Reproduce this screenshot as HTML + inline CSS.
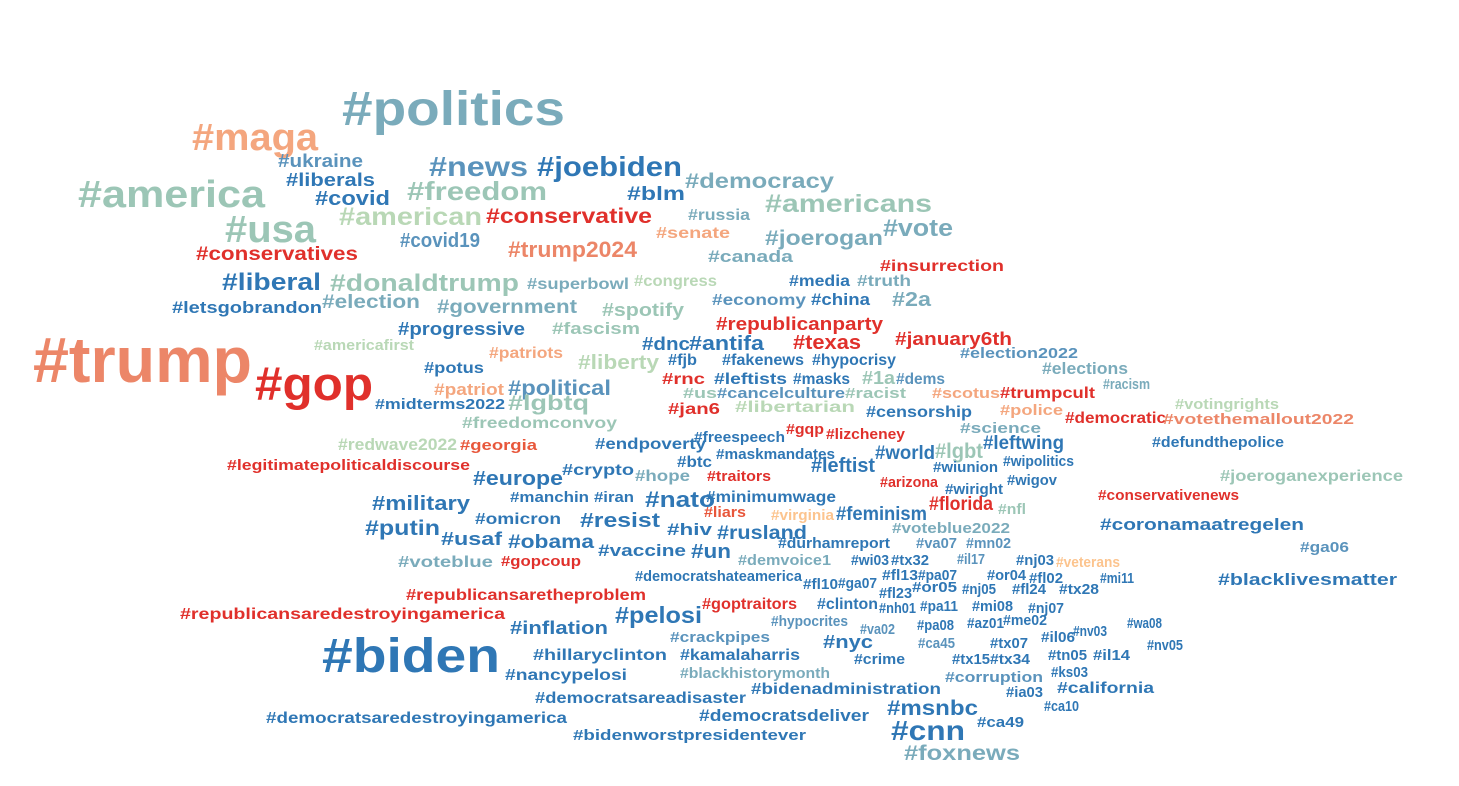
<!DOCTYPE html>
<html><head><meta charset="utf-8"><title>Hashtag word cloud</title>
<style>
html,body{margin:0;padding:0;background:#fff;}
svg{display:block;}
text{font-family:"Liberation Sans",Arial,sans-serif;font-weight:bold;}
</style></head>
<body>
<svg id="cloud" width="1459" height="786" viewBox="0 0 1459 786" xmlns="http://www.w3.org/2000/svg">
<rect width="1459" height="786" fill="#fff"/>
</svg>
<script>
// [word, left, right, baseline, fontSize, colorKey]
const words = [
["#politics",342,565,125,48,"S"],["#maga",192,318,150,38,"L"],["#ukraine",278,363,167,18,"M"],
["#liberals",286,375,186,18,"B"],["#america",78,265,207,38,"T"],["#news",429,528,176,28,"M"],
["#joebiden",537,682,176,28,"B"],["#covid",315,390,205,20,"B"],["#freedom",407,547,200,26,"T"],
["#democracy",685,834,188,21,"S"],["#blm",627,685,200,19,"B"],["#americans",765,932,212,25,"T"],
["#american",339,482,225,25,"G"],["#conservative",486,652,223,21,"R"],["#usa",225,316,242,38,"T"],
["#russia",688,750,220,16,"S"],["#senate",656,730,238,16,"L"],["#covid19",400,480,247,20,"M"],
["#trump2024",508,637,257,22,"O"],["#joerogan",765,883,245,21,"S"],["#vote",883,953,236,24,"S"],
["#conservatives",196,358,260,19,"R"],["#canada",708,793,262,17,"S"],["#insurrection",880,1004,271,16,"R"],
["#media",789,850,286,16,"B"],["#truth",857,911,286,16,"S"],["#liberal",222,321,290,24,"B"],
["#donaldtrump",330,519,291,24,"T"],["#superbowl",527,629,289,16,"S"],["#congress",634,717,286,16,"G"],
["#economy",712,806,305,16,"M"],["#china",811,870,305,17,"B"],["#2a",892,931,306,20,"S"],
["#letsgobrandon",172,322,313,17,"B"],["#election",322,420,308,19,"S"],["#government",437,577,313,19,"S"],
["#spotify",602,684,316,18,"T"],["#progressive",398,525,335,18,"B"],["#fascism",552,640,334,17,"T"],
["#republicanparty",716,883,330,18,"R"],["#dnc",642,690,350,18,"B"],["#antifa",689,764,350,20,"B"],
["#texas",793,861,349,20,"R"],["#january6th",895,1012,345,18,"R"],["#americafirst",314,414,350,15,"G"],
["#patriots",489,563,358,16,"L"],["#liberty",578,659,369,20,"G"],["#fjb",668,697,365,16,"B"],
["#fakenews",722,804,365,16,"B"],["#hypocrisy",812,896,365,16,"B"],["#election2022",960,1078,358,15,"M"],
["#elections",1042,1128,374,17,"S"],["#potus",424,484,373,16,"B"],["#trump",33,252,382,64,"O"],
["#gop",255,373,400,47,"R"],["#rnc",662,705,384,16,"R"],["#leftists",714,787,384,16,"B"],
["#masks",793,850,384,16,"B"],["#1a",862,895,384,18,"T"],["#dems",896,945,384,16,"M"],
["#racism",1103,1150,389,15,"S"],["#patriot",434,504,395,17,"L"],["#political",508,611,395,21,"M"],
["#us",683,717,398,15,"T"],["#cancelculture",717,845,398,15,"M"],["#racist",845,906,398,15,"T"],
["#scotus",932,1000,398,15,"L"],["#trumpcult",1000,1095,398,16,"R"],["#midterms2022",375,505,409,15,"B"],
["#lgbtq",508,589,410,21,"T"],["#jan6",668,720,414,16,"R"],["#libertarian",735,855,412,16,"G"],
["#votingrights",1175,1279,409,15,"G"],["#censorship",866,972,417,16,"B"],["#police",1000,1063,415,15,"L"],
["#democratic",1065,1166,423,16,"R"],["#votethemallout2022",1163,1354,424,15,"O"],["#freedomconvoy",462,617,428,16,"T"],
["#gqp",786,824,434,15,"R"],["#lizcheney",826,905,439,15,"R"],["#science",960,1041,433,15,"S"],
["#freespeech",694,785,442,15,"B"],["#redwave2022",338,457,450,17,"G"],["#georgia",460,537,450,15,"X"],
["#endpoverty",595,706,449,16,"B"],["#maskmandates",716,835,459,15,"B"],["#world",875,935,459,19,"B"],
["#lgbt",935,983,458,21,"T"],["#leftwing",983,1064,449,19,"B"],["#defundthepolice",1152,1284,447,15,"B"],
["#legitimatepoliticaldiscourse",227,470,470,15,"R"],["#btc",677,712,467,16,"B"],["#crypto",562,634,475,16,"B"],
["#hope",635,690,481,16,"S"],["#traitors",707,771,481,15,"R"],["#leftist",811,875,472,20,"B"],
["#wiunion",933,998,472,15,"B"],["#wipolitics",1003,1074,466,15,"B"],["#joeroganexperience",1220,1403,481,16,"T"],
["#europe",473,563,485,20,"B"],["#arizona",880,938,487,15,"R"],["#wigov",1007,1057,485,15,"B"],
["#wiright",945,1003,494,15,"B"],["#iran",594,634,502,15,"B"],["#manchin",510,589,502,15,"B"],
["#military",372,470,510,20,"B"],["#nato",645,715,507,22,"B"],["#minimumwage",706,836,502,16,"B"],
["#florida",929,993,510,19,"R"],["#conservativenews",1098,1239,500,15,"R"],["#feminism",836,927,520,19,"B"],
["#nfl",998,1026,514,15,"T"],["#liars",704,746,517,15,"X"],["#virginia",771,834,520,15,"P"],
["#omicron",475,561,524,16,"B"],["#resist",580,660,527,20,"B"],["#putin",365,440,535,21,"B"],
["#hiv",667,712,535,17,"B"],["#rusland",717,807,539,19,"B"],["#voteblue2022",892,1010,533,15,"S"],
["#coronamaatregelen",1100,1304,530,17,"B"],["#usaf",441,502,545,18,"B"],["#obama",508,594,548,19,"B"],
["#durhamreport",778,890,548,15,"B"],["#va07",916,957,548,15,"M"],["#mn02",966,1011,548,15,"M"],
["#ga06",1300,1349,552,15,"M"],["#vaccine",598,686,556,17,"B"],["#un",691,731,558,20,"B"],
["#voteblue",398,493,567,16,"S"],["#gopcoup",501,581,566,15,"R"],["#demvoice1",738,831,565,15,"S"],
["#wi03",851,889,565,15,"B"],["#tx32",891,929,565,15,"B"],["#il17",957,985,564,15,"M"],
["#nj03",1016,1054,565,15,"B"],["#veterans",1056,1120,567,15,"P"],["#democratshateamerica",635,802,581,15,"B"],
["#fl13",882,918,580,15,"B"],["#pa07",918,957,580,15,"B"],["#or04",987,1026,580,15,"B"],
["#fl02",1029,1063,583,15,"B"],["#mi11",1100,1134,583,15,"B"],["#blacklivesmatter",1218,1397,585,17,"B"],
["#fl10",803,838,589,15,"B"],["#ga07",838,877,588,15,"B"],["#or05",912,957,592,15,"B"],
["#nj05",962,996,594,15,"B"],["#fl24",1012,1046,594,15,"B"],["#tx28",1059,1099,594,15,"B"],
["#fl23",879,912,598,15,"B"],["#republicansaretheproblem",406,646,600,16,"R"],
["#republicansaredestroyingamerica",180,505,619,16,"R"],["#goptraitors",702,797,609,16,"R"],
["#clinton",817,878,609,16,"B"],["#nh01",879,916,613,15,"B"],["#pa11",920,958,611,15,"B"],
["#mi08",972,1013,611,15,"B"],["#nj07",1028,1064,613,15,"B"],["#pelosi",615,702,623,23,"B"],
["#inflation",510,608,634,18,"B"],["#hypocrites",771,848,626,15,"M"],["#va02",860,895,634,15,"M"],
["#pa08",917,954,630,15,"B"],["#az01",967,1004,628,15,"B"],["#me02",1003,1047,625,15,"B"],
["#nv03",1073,1107,636,15,"B"],["#wa08",1127,1162,628,15,"B"],["#crackpipes",670,770,642,15,"M"],
["#nyc",823,873,648,18,"B"],["#ca45",918,955,648,15,"M"],["#tx07",990,1028,648,15,"B"],
["#il06",1041,1075,642,15,"B"],["#nv05",1147,1183,650,15,"B"],["#biden",322,500,672,48,"B"],
["#hillaryclinton",533,667,660,16,"B"],["#kamalaharris",680,800,660,16,"B"],["#crime",854,905,664,15,"B"],
["#tx15",952,990,664,15,"B"],["#tx34",990,1030,664,15,"B"],["#tn05",1048,1087,660,15,"B"],
["#il14",1093,1130,660,15,"B"],["#blackhistorymonth",680,830,678,15,"S"],["#nancypelosi",505,627,680,16,"B"],
["#corruption",945,1043,682,15,"M"],["#ks03",1051,1088,677,15,"B"],["#bidenadministration",751,941,694,16,"B"],
["#california",1057,1154,693,16,"B"],["#democratsareadisaster",535,746,703,16,"B"],["#ia03",1006,1043,697,15,"B"],
["#ca10",1044,1079,711,15,"B"],["#msnbc",887,978,715,21,"B"],["#democratsdeliver",699,869,721,17,"B"],
["#democratsaredestroyingamerica",266,567,723,16,"B"],["#ca49",977,1024,727,15,"B"],["#cnn",891,965,740,28,"B"],
["#bidenworstpresidentever",573,806,740,15,"B"],["#foxnews",904,1020,760,21,"S"]
];
const palette = {R:"#e0302b",O:"#ec8668",X:"#e8573b",L:"#f4a67e",P:"#fcc48e",G:"#b9d8b6",T:"#9cc6b6",S:"#7aabbb",M:"#5a93bc",B:"#2f77b5"};
const svg = document.getElementById('cloud');
const NS = "http://www.w3.org/2000/svg";
words.forEach(w => {
  const t = document.createElementNS(NS, 'text');
  t.setAttribute('x', w[1]);
  t.setAttribute('y', w[3]);
  t.setAttribute('font-size', w[4]);
  t.setAttribute('fill', palette[w[5]]);
  t.setAttribute('textLength', w[2] - w[1]);
  t.setAttribute('lengthAdjust', 'spacingAndGlyphs');
  
  
  t.textContent = w[0];
  svg.appendChild(t);
});
</script>
</body></html>
